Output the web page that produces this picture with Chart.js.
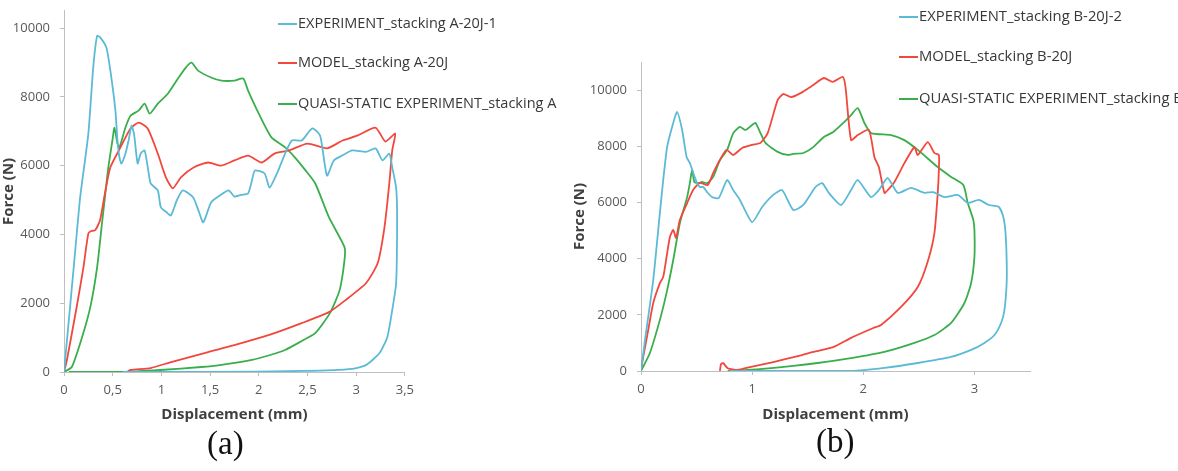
<!DOCTYPE html>
<html>
<head>
<meta charset="utf-8">
<script src="https://cdn.jsdelivr.net/npm/chart.js@4.4.0/dist/chart.umd.min.js"></script>
<style>
  body { margin: 0; width: 1178px; height: 471px; overflow: hidden; background: #fff; position: relative; font-family: "Open Sans", sans-serif; }
  canvas { position: absolute; }
  .leg { position: absolute; font-size: 14.5px; color: #383838; white-space: nowrap; line-height: 18px; }
  .leg span { display: inline-block; width: 19px; height: 2px; vertical-align: middle; margin-right: 1px; }
  .legb { font-size: 14.8px; }
  .cap { position: absolute; font-family: "Liberation Serif", "DejaVu Serif", serif; font-size: 33px; color: #111; }
</style>
</head>
<body>
<div style="position:absolute;left:0;top:-7px;width:420px;height:437px"><canvas id="chartA"></canvas></div>
<div style="position:absolute;left:565px;top:0;width:475px;height:430px"><canvas id="chartB"></canvas></div>

<div class="leg" style="left:278px;top:14px"><span style="background:#5bbad5"></span>EXPERIMENT_stacking A-20J-1</div>
<div class="leg" style="left:278px;top:53px"><span style="background:#f2473c"></span>MODEL_stacking A-20J</div>
<div class="leg" style="left:278px;top:94px"><span style="background:#3aae4c"></span>QUASI-STATIC EXPERIMENT_stacking A</div>

<div class="leg legb" style="left:899px;top:6px"><span style="background:#5bbad5"></span>EXPERIMENT_stacking B-20J-2</div>
<div class="leg legb" style="left:899px;top:46px"><span style="background:#f2473c"></span>MODEL_stacking B-20J</div>
<div class="leg legb" style="left:899px;top:88px"><span style="background:#3aae4c"></span>QUASI-STATIC EXPERIMENT_stacking B</div>

<div class="cap" style="left:207px;top:425px">(a)</div>
<div class="cap" style="left:816px;top:423px">(b)</div>

<script>
// ---- chart (a) : stacking A ----
var aExpX = [0, 0.05, 0.1, 0.166, 0.25, 0.3, 0.34, 0.373, 0.435, 0.476, 0.528, 0.549, 0.569, 0.59, 0.631, 0.663, 0.694, 0.72, 0.756, 0.787, 0.828, 0.87, 0.89, 0.963, 0.994, 1.05, 1.097, 1.16, 1.22, 1.325, 1.38, 1.43, 1.51, 1.6, 1.69, 1.75, 1.82, 1.89, 1.93, 1.96, 2.06, 2.11, 2.2, 2.27, 2.34, 2.44, 2.55, 2.63, 2.7, 2.77, 2.86, 2.96, 3.1, 3.2, 3.27, 3.34, 3.37, 3.41, 3.42, 3.41, 3.37, 3.32, 3.24, 3.1, 2.96, 2.47, 1.5, 0.6];
var aExpY = [0, 1520, 3050, 5080, 6930, 8850, 9770, 9720, 9430, 8760, 7600, 6730, 6240, 6060, 6350, 6730, 7160, 6900, 6060, 6350, 6440, 5770, 5480, 5280, 4790, 4650, 4550, 5000, 5280, 5080, 4700, 4350, 4930, 5130, 5280, 5100, 5150, 5190, 5570, 5860, 5770, 5360, 5860, 6350, 6730, 6730, 7080, 6870, 5710, 6150, 6300, 6440, 6400, 6500, 6150, 6350, 5950, 5360, 4500, 2580, 1800, 1020, 550, 200, 90, 30, 0, 0];

var aModX = [0, 0.03, 0.13, 0.2, 0.25, 0.28, 0.32, 0.37, 0.42, 0.476, 0.58, 0.683, 0.766, 0.859, 0.963, 1.046, 1.118, 1.2, 1.335, 1.48, 1.615, 1.75, 1.89, 2.03, 2.16, 2.31, 2.5, 2.7, 2.86, 3.01, 3.2, 3.3, 3.4, 3.37, 3.34, 3.29, 3.22, 3.1, 2.89, 2.72, 2.44, 2.1, 1.75, 1.48, 1.1, 0.89, 0.68, 0.65];
var aModY = [0, 350, 1890, 3050, 4030, 4100, 4120, 4410, 5190, 5950, 6530, 7080, 7250, 7080, 6350, 5660, 5340, 5660, 5950, 6090, 6000, 6150, 6290, 6090, 6350, 6440, 6640, 6500, 6730, 6870, 7100, 6700, 6930, 6440, 5480, 4200, 3160, 2580, 2090, 1740, 1420, 1070, 780, 580, 290, 116, 58, 0];

var aQsX = [0, 0.08, 0.186, 0.27, 0.34, 0.39, 0.42, 0.455, 0.497, 0.518, 0.549, 0.57, 0.63, 0.683, 0.766, 0.828, 0.88, 0.963, 1.066, 1.17, 1.25, 1.31, 1.377, 1.51, 1.615, 1.75, 1.84, 1.89, 2.0, 2.13, 2.27, 2.37, 2.48, 2.58, 2.72, 2.88, 2.88, 2.83, 2.73, 2.58, 2.44, 2.27, 2.1, 1.93, 1.6, 1.41, 0.99, 0.6, 0.05];
var aQsY = [0, 145, 1015, 1885, 3045, 4320, 5075, 5945, 6730, 7100, 6640, 6530, 7100, 7450, 7600, 7800, 7510, 7800, 8090, 8530, 8850, 8990, 8760, 8560, 8470, 8470, 8530, 8180, 7510, 6820, 6530, 6240, 5860, 5480, 4500, 3630, 3250, 2380, 1710, 1130, 900, 640, 480, 350, 200, 145, 58, 0, 0];

// ---- chart (b) : stacking B ----
var bExpX = [0, 0.036, 0.11, 0.17, 0.2, 0.235, 0.28, 0.325, 0.37, 0.41, 0.44, 0.47, 0.505, 0.53, 0.56, 0.595, 0.64, 0.7, 0.775, 0.83, 0.89, 1.0, 1.09, 1.19, 1.27, 1.37, 1.46, 1.57, 1.63, 1.69, 1.8, 1.89, 1.95, 2.07, 2.14, 2.22, 2.31, 2.43, 2.55, 2.63, 2.73, 2.85, 2.94, 3.04, 3.13, 3.22, 3.26, 3.28, 3.29, 3.29, 3.27, 3.24, 3.18, 3.09, 2.97, 2.79, 2.49, 2.19, 1.89, 0.8];
var bExpY = [0, 1100, 3240, 5630, 6800, 7970, 8690, 9220, 8580, 7620, 7400, 7050, 6690, 6550, 6550, 6370, 6190, 6160, 6800, 6440, 6090, 5300, 5840, 6270, 6440, 5730, 5910, 6550, 6690, 6340, 5910, 6440, 6800, 6190, 6440, 6870, 6340, 6520, 6340, 6370, 6190, 6270, 5980, 6090, 5910, 5840, 5480, 4910, 3950, 3130, 2170, 1710, 1280, 1000, 750, 500, 285, 110, 0, 0];

var bModX = [0, 0.02, 0.065, 0.11, 0.17, 0.2, 0.23, 0.26, 0.29, 0.315, 0.35, 0.415, 0.47, 0.53, 0.6, 0.65, 0.71, 0.77, 0.83, 0.91, 1.0, 1.075, 1.14, 1.23, 1.28, 1.35, 1.44, 1.55, 1.645, 1.725, 1.815, 1.84, 1.89, 1.95, 2.05, 2.1, 2.14, 2.19, 2.22, 2.28, 2.37, 2.46, 2.49, 2.58, 2.64, 2.68, 2.68, 2.67, 2.64, 2.58, 2.49, 2.34, 2.16, 2.09, 1.89, 1.73, 1.55, 1.44, 1.19, 0.98, 0.87, 0.78, 0.74, 0.72, 0.71];
var bModY = [0, 500, 1460, 2420, 3130, 3350, 4060, 4770, 5020, 4740, 5380, 5980, 6450, 6700, 6620, 7050, 7510, 7870, 7690, 7940, 8050, 8120, 8470, 9650, 9860, 9750, 9900, 10180, 10430, 10290, 10470, 10110, 8220, 8400, 8580, 7620, 7260, 6340, 6440, 6730, 7400, 7970, 7690, 8150, 7760, 7690, 7160, 6340, 4910, 3900, 2990, 2280, 1640, 1530, 1180, 850, 680, 560, 320, 140, 40, 100, 280, 250, 0];

var bQsX = [0, 0.08, 0.17, 0.23, 0.29, 0.35, 0.415, 0.44, 0.46, 0.48, 0.515, 0.55, 0.595, 0.65, 0.71, 0.775, 0.83, 0.89, 0.94, 1.0, 1.03, 1.075, 1.12, 1.23, 1.32, 1.37, 1.46, 1.55, 1.645, 1.73, 1.82, 1.89, 1.95, 2.01, 2.07, 2.25, 2.37, 2.49, 2.67, 2.79, 2.9, 2.94, 2.99, 3.0, 3.0, 2.97, 2.91, 2.79, 2.64, 2.46, 2.19, 1.89, 1.59, 1.37, 1.07, 0.78];
var bQsY = [0, 640, 1820, 2780, 3950, 5270, 6190, 6700, 7160, 6730, 6690, 6730, 6690, 6910, 7510, 7870, 8470, 8690, 8580, 8760, 8830, 8470, 8120, 7800, 7690, 7730, 7760, 7970, 8330, 8510, 8830, 9110, 9360, 8830, 8470, 8400, 8220, 7870, 7260, 6910, 6620, 5980, 5380, 5020, 4060, 3130, 2420, 1710, 1280, 1000, 680, 460, 285, 180, 70, 0];

// tick values
var aXTicks = [0, 0.5, 1, 1.5, 2, 2.5, 3, 3.5];
var bXTicks = [0, 1, 2, 3];
var yTicks = [0, 2000, 4000, 6000, 8000, 10000];

var labelsA = ['EXPERIMENT_stacking A-20J-1', 'MODEL_stacking A-20J', 'QUASI-STATIC EXPERIMENT_stacking A'];
var labelsB = ['EXPERIMENT_stacking B-20J-2', 'MODEL_stacking B-20J', 'QUASI-STATIC EXPERIMENT_stacking B'];
var colors = ['#5bbad5', '#f2473c', '#3aae4c'];

function pts(xs, ys) {
  return xs.map(function (x, i) { return { x: x, y: ys[i] }; });
}

function makeSet(label, xs, ys, color) {
  return {
    label: label,
    data: pts(xs, ys),
    showLine: true,
    borderColor: color,
    backgroundColor: color,
    borderWidth: 1.8,
    pointRadius: 0,
    tension: 0.2
  };
}

var tickFont = { family: 'Open Sans', size: 13 };
var titleFont = { family: 'Open Sans', size: 15, weight: 'bold' };

function makeChart(id, sets, opt) {
  var ctx = document.getElementById(id).getContext('2d');
  return new Chart(ctx, {
    type: 'scatter',
    data: { datasets: sets },
    options: {
      responsive: true,
      maintainAspectRatio: false,
      animation: false,
      layout: { padding: { top: opt.padTop, right: 10, left: 0, bottom: 0 } },
      plugins: { legend: { display: false }, tooltip: { enabled: false } },
      scales: {
        x: {
          type: 'linear',
          min: 0,
          max: 3.5,
          afterFit: function (s) { s.height = opt.xHeight; },
          afterBuildTicks: function (s) {
            s.ticks = opt.xTicks.map(function (v) { return { value: v }; });
          },
          ticks: {
            color: '#595959',
            font: tickFont,
            padding: 6,
            maxRotation: 0,
            autoSkip: false,
            callback: function (v) { return String(v).replace('.', ','); }
          },
          grid: { drawOnChartArea: false, drawTicks: true, tickLength: 4, color: '#bfbfbf' },
          border: { display: true, color: '#bfbfbf', width: 1 },
          title: { display: true, text: 'Displacement (mm)', color: '#404040', font: titleFont, padding: { top: 2, bottom: 6 } }
        },
        y: {
          type: 'linear',
          min: 0,
          max: opt.yMax,
          afterFit: function (s) { s.width = opt.yWidth; },
          afterBuildTicks: function (s) {
            s.ticks = yTicks.map(function (v) { return { value: v }; });
          },
          ticks: {
            color: '#595959',
            font: tickFont,
            padding: 10,
            autoSkip: false,
            callback: function (v) { return String(v); }
          },
          grid: { drawOnChartArea: false, drawTicks: true, tickLength: 4, color: '#bfbfbf' },
          border: { display: true, color: '#bfbfbf', width: 1 },
          title: { display: true, text: 'Force (N)', color: '#404040', font: titleFont, padding: { top: opt.yTitlePad, bottom: 0 } }
        }
      }
    }
  });
}

makeChart('chartA', [
  makeSet(labelsA[0], aExpX, aExpY, colors[0]),
  makeSet(labelsA[1], aModX, aModY, colors[1]),
  makeSet(labelsA[2], aQsX, aQsY, colors[2])
], { padTop: 10, yMax: 10500, xTicks: aXTicks, xHeight: 58, yWidth: 64, yTitlePad: 0 });

makeChart('chartB', [
  makeSet(labelsB[0], bExpX, bExpY, colors[0]),
  makeSet(labelsB[1], bModX, bModY, colors[1]),
  makeSet(labelsB[2], bQsX, bQsY, colors[2])
], { padTop: 62, yMax: 11000, xTicks: bXTicks, xHeight: 59, yWidth: 76, yTitlePad: 6 });
</script>
</body>
</html>
